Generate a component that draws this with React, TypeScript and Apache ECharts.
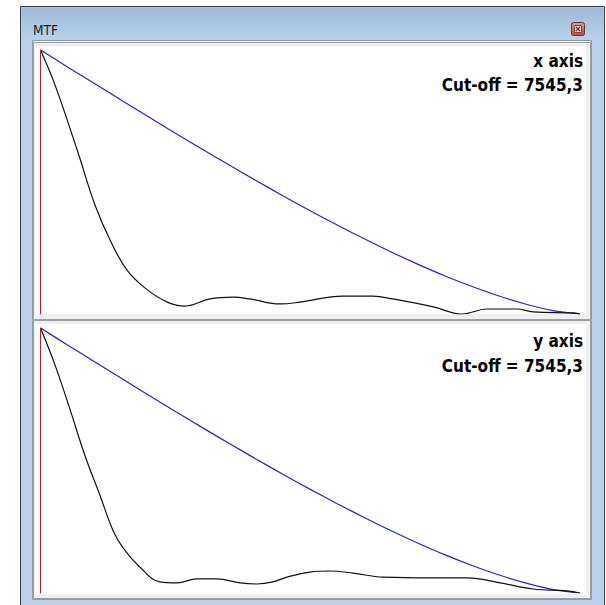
import React, { useEffect, useRef } from "react";
import * as echarts from "echarts";

// Spatial frequency as a fraction of the cut-off frequency
const cutOff = "7545,3";
const panelTitles = ["x axis", "y axis"];

const freqDiff = [0, 0.05, 0.1, 0.15, 0.2, 0.25, 0.3, 0.35, 0.4, 0.45, 0.5, 0.55, 0.6, 0.65, 0.7, 0.75, 0.8, 0.85, 0.9, 0.95, 1];
const mtfDiffX = [1, 0.936, 0.873, 0.81, 0.747, 0.685, 0.624, 0.564, 0.505, 0.447, 0.391, 0.337, 0.285, 0.235, 0.188, 0.144, 0.104, 0.068, 0.037, 0.013, 0];
const mtfDiffY = [1, 0.936, 0.873, 0.81, 0.747, 0.685, 0.624, 0.564, 0.505, 0.447, 0.391, 0.337, 0.285, 0.235, 0.188, 0.144, 0.104, 0.068, 0.037, 0.013, 0];

const freqX = [0, 0.027, 0.068, 0.101, 0.129, 0.16, 0.194, 0.235, 0.268, 0.314, 0.357, 0.388, 0.444, 0.481, 0.561, 0.616, 0.653, 0.728, 0.781, 0.828, 0.883, 0.913, 0.987, 1];
const mtfX = [1, 0.867, 0.621, 0.413, 0.28, 0.167, 0.098, 0.045, 0.03, 0.057, 0.064, 0.057, 0.038, 0.045, 0.068, 0.068, 0.057, 0.027, 0.0, 0.019, 0.019, 0.008, 0.004, 0];

const freqY = [0, 0.027, 0.055, 0.082, 0.11, 0.134, 0.153, 0.184, 0.221, 0.253, 0.29, 0.327, 0.37, 0.401, 0.431, 0.457, 0.499, 0.537, 0.579, 0.635, 0.728, 0.791, 0.852, 0.913, 0.976, 1];
const mtfY = [1, 0.86, 0.691, 0.521, 0.37, 0.238, 0.17, 0.098, 0.042, 0.038, 0.053, 0.053, 0.038, 0.034, 0.042, 0.06, 0.079, 0.083, 0.075, 0.06, 0.057, 0.057, 0.038, 0.015, 0.008, 0];

const pairs = (xs: number[], ys: number[]) => xs.map((x, i) => [x, ys[i]]);

export default function App() {
  const ref = useRef<HTMLDivElement>(null);
  useEffect(() => {
    const chart = echarts.init(ref.current!, null, { renderer: "svg" });
    const grids = [
      { left: 40.5, top: 50, width: 539.5, height: 264 },
      { left: 40.5, top: 328, width: 539.5, height: 265 },
    ];
    const font = "'DejaVu Sans Condensed', 'DejaVu Sans', sans-serif";
    const graphic: any[] = [
      // window frame
      { type: "rect", z: -10, shape: { x: 20.5, y: 6.5, width: 584, height: 610 }, style: { fill: "#b9d1ea", stroke: "#3c3c3c", lineWidth: 1 } },
      { type: "rect", z: -10, shape: { x: 21.5, y: 7.5, width: 582, height: 32 }, style: { fill: new echarts.graphic.LinearGradient(0, 0, 0, 1, [{ offset: 0, color: "#9fb9d6" }, { offset: 1, color: "#b9d1ea" }]) } },
      { type: "text", z: -5, style: { x: 33, y: 30, text: "MTF", font: `13.5px ${font}`, fill: "#1e1e1e", verticalAlign: "middle" } },
      // close button
      { type: "rect", z: -5, shape: { x: 571.5, y: 22.5, width: 13, height: 13, r: 2 }, style: { fill: new echarts.graphic.LinearGradient(0, 0, 0, 1, [{ offset: 0, color: "#e09a90" }, { offset: 1, color: "#b84a40" }]), stroke: "#6e3530", lineWidth: 1 } },
      { type: "rect", z: -4, shape: { x: 574.5, y: 25.5, width: 7, height: 7 }, style: { fill: "#f0d8d4", stroke: "#7a4a46", lineWidth: 1 } },
      { type: "line", z: -3, shape: { x1: 576, y1: 27, x2: 580, y2: 31 }, style: { stroke: "#6a3a36", lineWidth: 1.2 } },
      { type: "line", z: -3, shape: { x1: 580, y1: 27, x2: 576, y2: 31 }, style: { stroke: "#6a3a36", lineWidth: 1.2 } },
      // client area
      { type: "rect", z: -9, shape: { x: 32.5, y: 40.5, width: 559, height: 559 }, style: { fill: "#f0f0f0", stroke: "#8a9bb0", lineWidth: 1 } },
      // panel 1
      { type: "rect", z: -8, shape: { x: 33.5, y: 42.5, width: 557, height: 277 }, style: { fill: "#f0f0f0", stroke: "#a0a0a0", lineWidth: 1 } },
      { type: "rect", z: -7, shape: { x: 35, y: 46, width: 551, height: 268 }, style: { fill: "#ffffff" } },
      // panel 2
      { type: "rect", z: -8, shape: { x: 33.5, y: 320.5, width: 557, height: 278 }, style: { fill: "#f0f0f0", stroke: "#a0a0a0", lineWidth: 1 } },
      { type: "rect", z: -7, shape: { x: 35, y: 324, width: 551, height: 270 }, style: { fill: "#ffffff" } },
    ];
    const textTops = [[61, 85], [341, 366]];
    panelTitles.forEach((t, i) => {
      graphic.push({ type: "text", z: 10, style: { x: 583, y: textTops[i][0], text: t, font: `bold 17px ${font}`, fill: "#000", align: "right", verticalAlign: "middle" } });
      graphic.push({ type: "text", z: 10, style: { x: 583, y: textTops[i][1], text: `Cut-off = ${cutOff}`, font: `bold 17px ${font}`, fill: "#000", align: "right", verticalAlign: "middle" } });
    });
    const mkX = (gi: number) => ({ type: "value", gridIndex: gi, min: 0, max: 1, show: false });
    const mkY = (gi: number) => ({
      type: "value", gridIndex: gi, min: 0, max: 1, z: 5,
      axisLine: { show: true, lineStyle: { color: "#c02020", width: 1 } },
      axisTick: { show: false }, axisLabel: { show: false }, splitLine: { show: false },
    });
    const blue = "#2424c8";
    const black = "#111111";
    chart.setOption({
      animation: false,
      backgroundColor: "#ffffff",
      graphic,
      grid: grids,
      xAxis: [mkX(0), mkX(1)],
      yAxis: [mkY(0), mkY(1)],
      series: [
        { type: "line", xAxisIndex: 0, yAxisIndex: 0, data: pairs(freqDiff, mtfDiffX), showSymbol: false, smooth: 0.3, lineStyle: { color: blue, width: 1.2 }, z: 3 },
        { type: "line", xAxisIndex: 0, yAxisIndex: 0, data: pairs(freqX, mtfX), showSymbol: false, smooth: 0.4, lineStyle: { color: black, width: 1.2 }, z: 3 },
        { type: "line", xAxisIndex: 1, yAxisIndex: 1, data: pairs(freqDiff, mtfDiffY), showSymbol: false, smooth: 0.3, lineStyle: { color: blue, width: 1.2 }, z: 3 },
        { type: "line", xAxisIndex: 1, yAxisIndex: 1, data: pairs(freqY, mtfY), showSymbol: false, smooth: 0.4, lineStyle: { color: black, width: 1.2 }, z: 3 },
      ],
    });
    return () => chart.dispose();
  }, []);
  return <div ref={ref} style={{ position: "fixed", left: 0, top: 0, width: 606, height: 605 }} />;
}
